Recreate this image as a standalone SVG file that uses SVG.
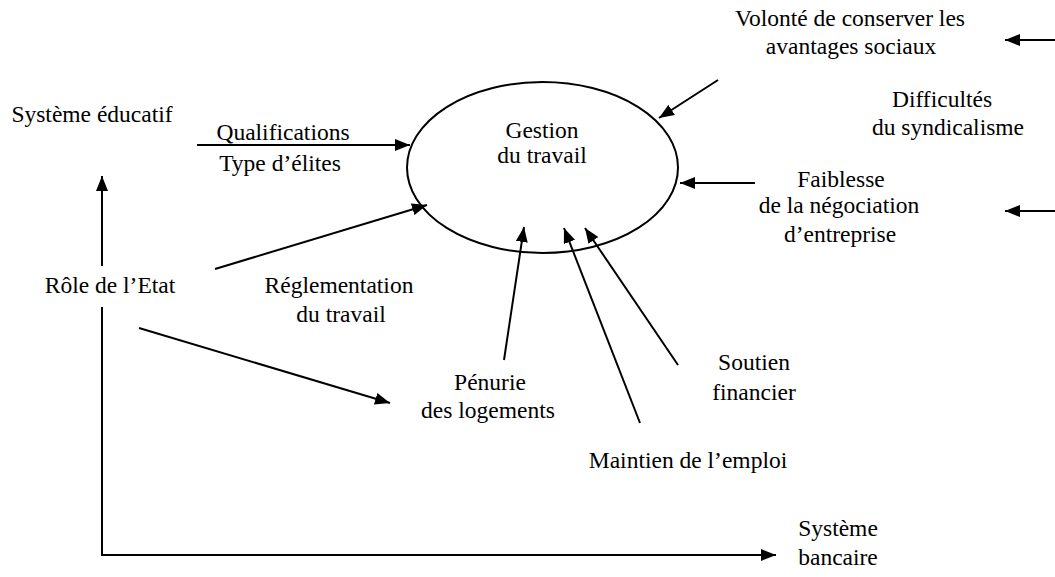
<svg xmlns="http://www.w3.org/2000/svg" width="1055" height="577" viewBox="0 0 1055 577">
<style>
text{font-family:'Liberation Serif','Times New Roman',Tinos,'DejaVu Serif',serif;font-size:23.5px;fill:#000;text-anchor:middle}
.c line,.c polyline{stroke:#000;stroke-width:2;fill:none}
</style>
<defs>
<marker id="ah" markerUnits="userSpaceOnUse" markerWidth="15" markerHeight="12" refX="15" refY="6" orient="auto">
<path d="M0,0 L15,6 L0,12 z" fill="#000"/>
</marker>
</defs>
<rect width="1055" height="577" fill="#fff"/>
<g id="gestion">
<ellipse cx="542.5" cy="167.5" rx="135.5" ry="85.5" fill="none" stroke="#000" stroke-width="2"/>
<text x="542" y="138" font-family="Liberation Serif, serif">Gestion</text>
<text x="542" y="163" font-family="Liberation Serif, serif">du travail</text>
</g>
<g id="volonte"><text x="850" y="26">Volonté de conserver les</text><text x="851" y="54">avantages sociaux</text></g>
<g id="difficultes"><text x="942" y="107">Difficultés</text><text x="948" y="135">du syndicalisme</text></g>
<g id="faiblesse"><text x="841" y="187">Faiblesse</text><text x="839" y="213">de la négociation</text><text x="840" y="242">d’entreprise</text></g>
<g id="systeme-educatif"><text x="92" y="122">Système éducatif</text></g>
<g id="qualifications"><text x="283" y="140">Qualifications</text><text x="280" y="171">Type d’élites</text></g>
<g id="role-etat"><text x="110" y="293">Rôle de l’Etat</text></g>
<g id="reglementation"><text x="339" y="293">Réglementation</text><text x="341" y="322">du travail</text></g>
<g id="penurie"><text x="490" y="390">Pénurie</text><text x="488" y="418">des logements</text></g>
<g id="soutien"><text x="754" y="370">Soutien</text><text x="754" y="400">financier</text></g>
<g id="maintien"><text x="688" y="468">Maintien de l’emploi</text></g>
<g id="systeme-bancaire"><text x="838" y="536">Système</text><text x="838" y="565">bancaire</text></g>
<g class="c" id="connectors">
<line x1="1055" y1="40" x2="1005" y2="40" marker-end="url(#ah)"/>
<line x1="1055" y1="211" x2="1005" y2="211" marker-end="url(#ah)"/>
<line x1="718" y1="80" x2="659" y2="118" marker-end="url(#ah)"/>
<line x1="755" y1="183" x2="680" y2="183" marker-end="url(#ah)"/>
<line x1="197" y1="145" x2="410" y2="145" marker-end="url(#ah)"/>
<line x1="215" y1="269" x2="427" y2="205" marker-end="url(#ah)"/>
<line x1="504" y1="360" x2="524" y2="227" marker-end="url(#ah)"/>
<line x1="640" y1="423" x2="564" y2="228" marker-end="url(#ah)"/>
<line x1="678" y1="365" x2="585" y2="228" marker-end="url(#ah)"/>
<line x1="102" y1="266" x2="102" y2="176" marker-end="url(#ah)"/>
<polyline points="102,307 102,555 776,555" marker-end="url(#ah)"/>
<line x1="139" y1="328" x2="390" y2="403" marker-end="url(#ah)"/>
</g>
</svg>
